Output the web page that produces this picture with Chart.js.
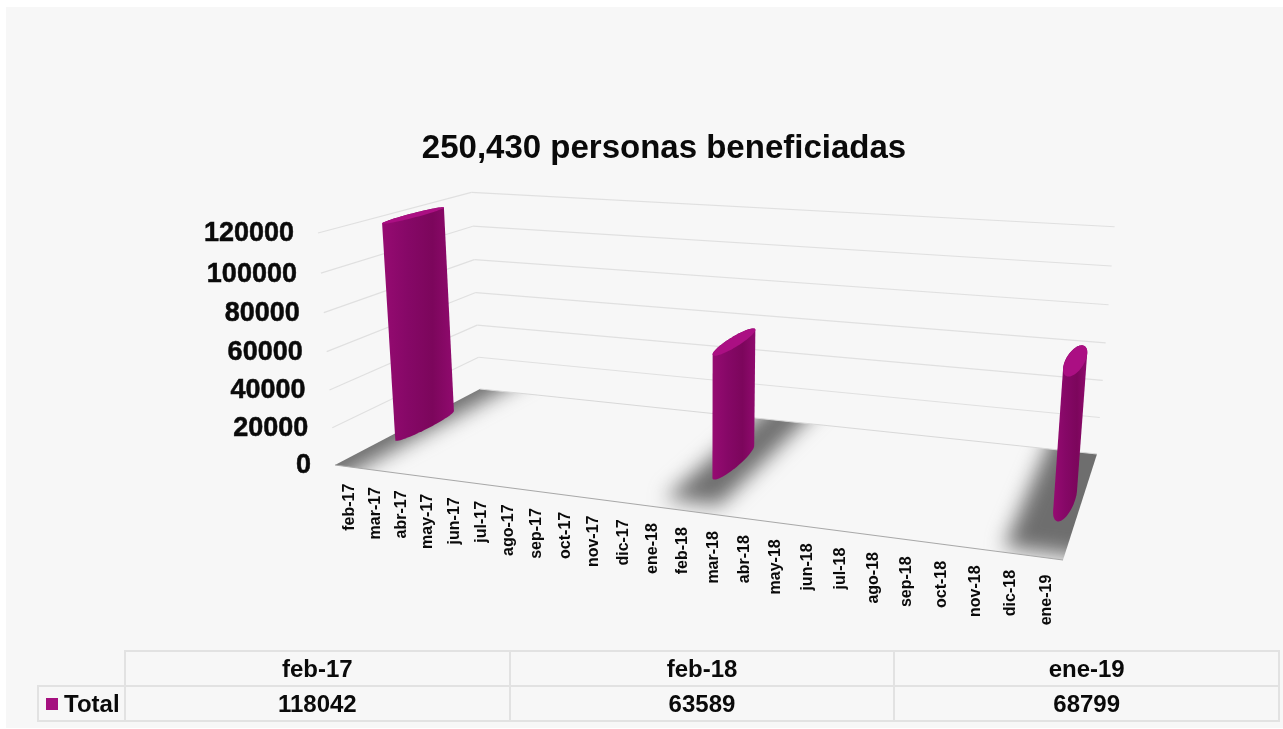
<!DOCTYPE html>
<html>
<head>
<meta charset="utf-8">
<title>personas beneficiadas</title>
<script src="https://cdn.jsdelivr.net/npm/chart.js@4"></script>
<style>
  html, body { margin: 0; padding: 0; background: #fff; }
  #sheet { position: absolute; left: 6px; top: 7px; width: 1277px; height: 721px; background: #f7f7f7; }
  #chart { position: absolute; left: 0; top: 0; }
  #dataTable { position: absolute; left: 37px; top: 650px; border-collapse: collapse; table-layout: fixed; width: 1243px;
    font: bold 24px "Liberation Sans", Arial, sans-serif; color: #0a0a0a; }
  #dataTable td { border: 2px solid #e2e2e2; height: 33px; padding: 0; text-align: center; }
  #dataTable td.blank { border: 0; }
  #dataTable td.key { white-space: nowrap; text-align: left; padding-left: 7px; }
  #dataTable .swatch { display: inline-block; width: 12px; height: 12px; background: #a5107f; margin-right: 6px; vertical-align: 2px; }
</style>
</head>
<body>
<div id="sheet"></div>
<canvas id="chart" width="1283" height="729"></canvas>
<table id="dataTable"></table>
<script>
(function(){
  var titleText = '250,430 personas beneficiadas';
  var seriesName = 'Total';
  var months = ['feb-17','mar-17','abr-17','may-17','jun-17','jul-17','ago-17','sep-17','oct-17','nov-17','dic-17','ene-18',
    'feb-18','mar-18','abr-18','may-18','jun-18','jul-18','ago-18','sep-18','oct-18','nov-18','dic-18','ene-19'];
  var totals = [118042,null,null,null,null,null,null,null,null,null,null,null,
    63589,null,null,null,null,null,null,null,null,null,null,68799];

  // camera: where the floor corners land on screen (front-left, front-right, back-right, back-left)
  var floorCorners = [[335,465],[1063,560],[1097,454],[480,389]];
  var topFrontLeft = [318,233];
  var RISE = 0.956;
  var DEPTH_MID = 0.5, DEPTH_HALF = 0.2;

  // 3x4 projection built from the floor homography plus one column for height
  function makeCamera(c){
    var dx1 = c[1][0]-c[2][0], dx2 = c[3][0]-c[2][0], sx = c[0][0]-c[1][0]+c[2][0]-c[3][0];
    var dy1 = c[1][1]-c[2][1], dy2 = c[3][1]-c[2][1], sy = c[0][1]-c[1][1]+c[2][1]-c[3][1];
    var det = dx1*dy2-dx2*dy1;
    var g = (sx*dy2-dx2*sy)/det, h = (dx1*sy-sx*dy1)/det;
    var a = c[1][0]-c[0][0]+g*c[1][0], b = c[3][0]-c[0][0]+h*c[3][0];
    var d = c[1][1]-c[0][1]+g*c[1][1], e = c[3][1]-c[0][1]+h*c[3][1];
    var px = topFrontLeft[0]*RISE-c[0][0], py = topFrontLeft[1]*RISE-c[0][1], pw = RISE-1;
    // u along the months, v into the depth, t share of the axis height
    return function(u, v, t){
      var w = g*u+h*v+pw*t+1;
      return [(a*u+b*v+px*t+c[0][0])/w, (d*u+e*v+py*t+c[0][1])/w];
    };
  }
  var project = makeCamera(floorCorners);

  function poly(ctx, pts){
    ctx.beginPath();
    pts.forEach(function(p, i){ if (i) ctx.lineTo(p[0], p[1]); else ctx.moveTo(p[0], p[1]); });
    ctx.closePath();
  }
  function seg(ctx, a, b){
    ctx.beginPath(); ctx.moveTo(a[0], a[1]); ctx.lineTo(b[0], b[1]); ctx.stroke();
  }
  function hull(points){
    var pts = points.slice().sort(function(a, b){ return a[0]-b[0] || a[1]-b[1]; });
    function side(list){
      var out = [];
      list.forEach(function(p){
        while (out.length > 1){
          var a = out[out.length-2], b = out[out.length-1];
          if ((b[0]-a[0])*(p[1]-a[1])-(b[1]-a[1])*(p[0]-a[0]) <= 0) out.pop(); else break;
        }
        out.push(p);
      });
      out.pop();
      return out;
    }
    return side(pts).concat(side(pts.slice().reverse()));
  }
  function ringAt(u, du, t){
    var pts = [];
    for (var i = 0; i < 72; i++){
      var a = i/72*Math.PI*2;
      pts.push(project(u+Math.cos(a)*du, DEPTH_MID+Math.sin(a)*DEPTH_HALF, t));
    }
    return pts;
  }

  var box3d = {
    id: 'box3d',
    beforeDatasetsDraw: function(chart){
      var ctx = chart.ctx, x = chart.scales.x, y = chart.scales.y;
      ctx.save();
      // grid on the two walls, one line per y tick
      ctx.lineWidth = 1.2;
      ctx.strokeStyle = '#e0e0e0';
      y.ticks.forEach(function(tick){
        var t = (y.bottom-y.getPixelForValue(tick.value))/(y.bottom-y.top);
        if (t === 0) return;
        seg(ctx, project(0,0,t), project(0,1,t));
        seg(ctx, project(0,1,t), project(1,1,t));
      });
      // soft shadows, kept inside the floor
      ctx.save();
      poly(ctx, floorCorners);
      ctx.clip();
      ctx.filter = 'blur(10px)';
      ctx.fillStyle = '#6e6e6e';
      var meta = chart.getDatasetMeta(0);
      meta.data.forEach(function(el, i){
        if (totals[i] === null) return;
        var u = (el.x-x.left)/x.width;
        var near = i === 0 ? -0.2 : (i === 23 ? 0.04 : 0.08);
        var halfLeft = i === 0 ? 0.1 : (i === 23 ? 0.05 : 0.035);
        var halfRight = i === 0 ? 0.02 : (i === 23 ? 0.1 : 0.04);
        poly(ctx, [project(u-halfLeft,near,0), project(u+halfRight,near,0), project(u+halfRight,1.3,0), project(u-halfLeft,1.3,0)]);
        ctx.fill();
      });
      ctx.restore();
      // floor edges
      ctx.strokeStyle = '#a8a8a8';
      seg(ctx, floorCorners[0], floorCorners[1]);
      ctx.strokeStyle = '#d8d8d8';
      seg(ctx, floorCorners[3], floorCorners[2]);
      // value labels follow the slanted left edge of the box
      ctx.fillStyle = '#0a0a0a';
      ctx.strokeStyle = '#0a0a0a';
      ctx.lineWidth = 0.5;
      ctx.font = 'bold 27px "Liberation Sans", Arial, sans-serif';
      ctx.textAlign = 'right';
      ctx.textBaseline = 'middle';
      y.ticks.forEach(function(tick){
        var t = (y.bottom-y.getPixelForValue(tick.value))/(y.bottom-y.top);
        var p = project(0, 0, t);
        ctx.fillText(tick.label, p[0]-24, p[1]+1);
        ctx.strokeText(tick.label, p[0]-24, p[1]+1);
      });
      // month labels along the front edge
      ctx.font = 'bold 16px "Liberation Sans", Arial, sans-serif';
      months.forEach(function(label, i){
        var p = project((x.getPixelForValue(i)-x.left)/x.width, 0, 0);
        ctx.save();
        ctx.translate(p[0]+2, p[1]+17);
        ctx.rotate(-Math.PI/2);
        ctx.fillText(label, 0, 0);
        ctx.restore();
      });
      ctx.restore();
    },
    beforeDatasetDraw: function(chart, args){
      var ctx = chart.ctx, x = chart.scales.x, y = chart.scales.y;
      args.meta.data.forEach(function(el, i){
        if (totals[i] === null) return;
        var u = (el.x-x.left)/x.width;
        var du = el.width/x.width/2;
        var t = (y.bottom-el.y)/(y.bottom-y.top);
        var base = ringAt(u, du, 0), top = ringAt(u, du, t);
        var body = hull(base.concat(top));
        var xs = body.map(function(p){ return p[0]; });
        var grad = ctx.createLinearGradient(Math.min.apply(null, xs), 0, Math.max.apply(null, xs), 0);
        grad.addColorStop(0, '#960b72');
        grad.addColorStop(0.35, '#860867');
        grad.addColorStop(0.7, '#7c065c');
        grad.addColorStop(1, '#900a6e');
        ctx.save();
        poly(ctx, body);
        ctx.fillStyle = grad;
        ctx.fill();
        poly(ctx, top);
        ctx.fillStyle = '#ab0f83';
        ctx.fill();
        ctx.restore();
      });
      return false;
    }
  };

  new Chart(document.getElementById('chart'), {
    type: 'bar',
    data: {
      labels: months,
      datasets: [{ label: seriesName, data: totals, backgroundColor: '#a5107f', barPercentage: 0.58, categoryPercentage: 1 }]
    },
    options: {
      responsive: false,
      animation: false,
      layout: { padding: { left: 205, right: 160, top: 130, bottom: 262 } },
      plugins: {
        legend: { display: false },
        tooltip: { enabled: false },
        title: {
          display: true,
          text: titleText,
          color: '#0a0a0a',
          font: { family: '"Liberation Sans", Arial, sans-serif', size: 33, weight: 'bold', lineHeight: 1.15 },
          padding: { top: 0, bottom: 67 }
        }
      },
      scales: {
        x: { display: false },
        y: {
          min: 0,
          max: 120000,
          grid: { display: false, drawTicks: false },
          border: { display: false },
          afterFit: function(scale){ scale.width = 130; },
          ticks: {
            display: false,
            stepSize: 20000,
            autoSkip: false,
            callback: function(v){ return String(v); }
          }
        }
      }
    },
    plugins: [box3d]
  });

  // table under the chart, only the months that have a value
  var table = document.getElementById('dataTable');
  var shown = months.filter(function(m, i){ return totals[i] !== null; });
  var shownValues = totals.filter(function(v){ return v !== null; });
  var cols = '<colgroup><col style="width:87px">' + shown.map(function(){ return '<col>'; }).join('') + '</colgroup>';
  var head = '<tr><td class="blank"></td>' + shown.map(function(m){ return '<td>' + m + '</td>'; }).join('') + '</tr>';
  var row = '<tr><td class="key"><span class="swatch"></span>' + seriesName + '</td>' +
    shownValues.map(function(v){ return '<td>' + v + '</td>'; }).join('') + '</tr>';
  table.innerHTML = cols + head + row;
})();
</script>
</body>
</html>
